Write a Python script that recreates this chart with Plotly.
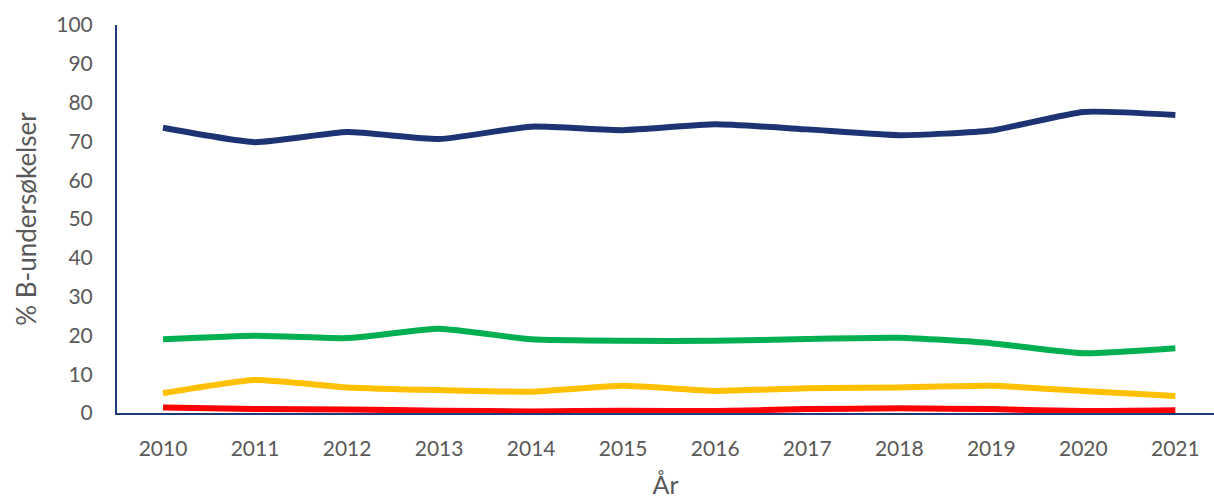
import plotly.graph_objects as go

years = ["2010", "2011", "2012", "2013", "2014", "2015",
         "2016", "2017", "2018", "2019", "2020", "2021"]

# Andel B-undersøkelser per tilstandsklasse
klasse_1 = [73.5, 69.8, 72.4, 70.6, 73.8, 72.9, 74.4, 73.1, 71.6, 72.8, 77.6, 76.8]
klasse_2 = [19.0, 19.9, 19.3, 21.7, 19.0, 18.6, 18.6, 19.1, 19.4, 18.0, 15.4, 16.7]
klasse_3 = [5.1, 8.5, 6.6, 5.9, 5.5, 7.0, 5.7, 6.4, 6.6, 7.0, 5.7, 4.4]
klasse_4 = [1.4, 1.0, 0.9, 0.6, 0.4, 0.6, 0.5, 1.0, 1.2, 1.0, 0.5, 0.7]

series = [
    ("Tilstand 1", klasse_1, "#1C3473"),
    ("Tilstand 2", klasse_2, "#00B050"),
    ("Tilstand 3", klasse_3, "#FFC000"),
    ("Tilstand 4", klasse_4, "#FF0000"),
]

fig = go.Figure()
for name, vals, color in series:
    fig.add_trace(go.Scatter(
        x=years, y=vals, name=name, mode="lines",
        line=dict(color=color, width=6, shape="spline", smoothing=0.5),
        showlegend=False,
    ))

axis_color = "#1F3A7A"
font_family = "Lato, 'Open Sans', sans-serif"
tick_font = dict(family=font_family, size=21, color="#595959")

fig.update_layout(
    width=1214, height=499,
    margin=dict(l=117, r=0, t=25, b=86),
    paper_bgcolor="white", plot_bgcolor="white",
    xaxis=dict(
        type="category", range=[-0.5, 11.42],
        showline=True, linecolor=axis_color, linewidth=2,
        showgrid=False, ticks="", tickfont=tick_font,
        ticklabelstandoff=16,
        title=dict(text="År", font=dict(family=font_family, size=25, color="#595959"),
                   standoff=18),
    ),
    yaxis=dict(
        range=[0, 100], dtick=10,
        showline=True, linecolor=axis_color, linewidth=2,
        showgrid=False, zeroline=False, ticks="", tickfont=tick_font,
        ticklabelstandoff=18,
        title=dict(text="% B-undersøkelser",
                   font=dict(family=font_family, size=26, color="#595959"),
                   standoff=12),
    ),
)

fig.write_html("out.html")
